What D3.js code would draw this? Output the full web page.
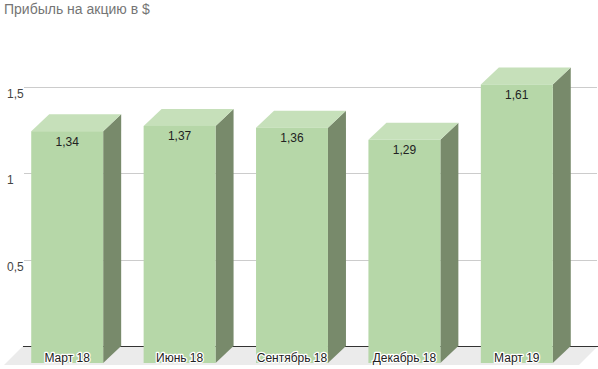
<!DOCTYPE html>
<html><head><meta charset="utf-8">
<script src="https://cdn.jsdelivr.net/npm/d3@7/dist/d3.min.js"></script>
<style>body{margin:0;background:#fff;}svg{display:block;font-family:"Liberation Sans",Arial,sans-serif;}</style>
</head><body>
<svg id="c" width="598" height="369"></svg>
<script>
const title = "Прибыль на акцию в $";
const categories = ["Март 18", "Июнь 18", "Сентябрь 18", "Декабрь 18", "Март 19"];
const values = [1.34, 1.37, 1.36, 1.29, 1.61];
const valueLabels = ["1,34", "1,37", "1,36", "1,29", "1,61"];
const yTicks = [0.5, 1, 1.5];
const yTickLabels = ["0,5", "1", "1,5"];

const svg = d3.select("#c");
const DX = 18, DY = 17;
const x = d3.scaleBand().domain(categories).range([11, 573]).paddingInner(0.36).paddingOuter(0.18);
const y = d3.scaleLinear().domain([0, 1.5]).range([346, 86.5]);
const bw = x.bandwidth();

svg.append("text").attr("x", 4).attr("y", 14).attr("font-size", 14).attr("fill", "#757575").text(title);

// floor
const y0 = y(0);
svg.append("path").attr("fill", "#ebebeb")
  .attr("d", `M23,${y0}L598,${y0}L${598-DX-1},${y0+DY+2}L${23-DX-1},${y0+DY+2}Z`);

// gridlines
svg.selectAll(".grid").data(yTicks).join("line")
  .attr("x1", 24).attr("x2", 597)
  .attr("y1", d => Math.round(y(d)) + 0.5).attr("y2", d => Math.round(y(d)) + 0.5)
  .attr("stroke", "#cccccc").attr("stroke-width", 1);
svg.append("line").attr("x1", 23).attr("x2", 598)
  .attr("y1", Math.round(y0) + 0.5).attr("y2", Math.round(y0) + 0.5)
  .attr("stroke", "#333").attr("stroke-width", 1);

svg.selectAll(".yl").data(yTicks).join("text")
  .attr("x", 7).attr("y", d => y(d) + 11)
  .attr("font-size", 12).attr("fill", "#444")
  .text((d, i) => yTickLabels[i]);

// bars
const g = svg.selectAll(".bar").data(categories).join("g");
g.each(function(c, i) {
  const sel = d3.select(this);
  const fx = x(c), fy = y(values[i]) + DY, fb = y0 + DY;
  sel.append("path").attr("fill", "#788a6b")
    .attr("d", `M${fx+bw},${fy}L${fx+bw+DX},${fy-DY}L${fx+bw+DX},${y0}L${fx+bw},${fb}Z`);
  sel.append("path").attr("fill", "#c6e0ba")
    .attr("d", `M${fx},${fy}L${fx+DX},${fy-DY}L${fx+bw+DX},${fy-DY}L${fx+bw},${fy}Z`);
  sel.append("rect").attr("x", fx).attr("y", fy).attr("width", bw).attr("height", fb - fy).attr("fill", "#b6d7a8");
  sel.append("text").attr("x", fx + bw/2).attr("y", fy + 14.5).attr("text-anchor", "middle")
    .attr("font-size", 12).attr("fill", "#222").text(valueLabels[i]);
  sel.append("text").attr("x", fx + bw/2).attr("y", fb - 1.5).attr("text-anchor", "middle")
    .attr("font-size", 12).attr("fill", "#222")
    .attr("stroke", "#fff").attr("stroke-width", 2.5).attr("paint-order", "stroke")
    .attr("stroke-linejoin", "round").text(c);
});
</script>
</body></html>
